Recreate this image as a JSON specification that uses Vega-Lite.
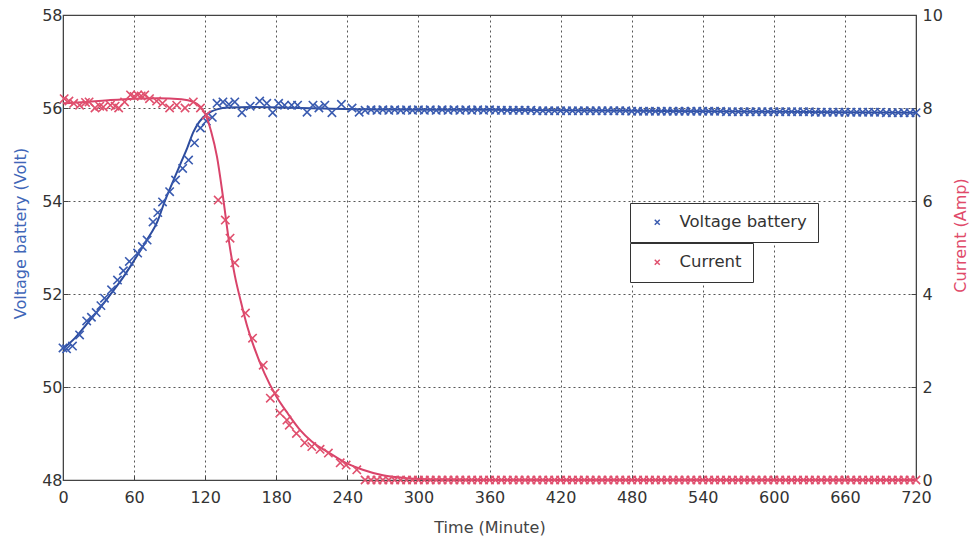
{
  "$schema": "https://vega.github.io/schema/vega-lite/v6.json",
  "autosize": "none",
  "width": 853,
  "height": 465,
  "padding": {"left": 63, "top": 15, "right": 54, "bottom": 57},
  "background": "white",
  "config": {
    "font": "DejaVu Sans",
    "view": {"stroke": "#444", "strokeWidth": 1.2},
    "axis": {
      "labelFont": "DejaVu Sans", "labelFontSize": 16, "labelColor": "#333",
      "titleFont": "DejaVu Sans", "titleFontSize": 16, "titleFontWeight": "normal",
      "domainColor": "#444", "tickColor": "#444", "tickSize": -5,
      "gridColor": "#444", "gridDash": [2, 3], "gridOpacity": 0.9, "gridWidth": 1
    },
    "legend": {"labelFont": "DejaVu Sans", "labelFontSize": 16.5, "labelColor": "#333"}
  },
  "datasets": {
    "vpts": [
      {"t":0,"v":50.84},{"t":3,"v":50.82},{"t":8,"v":50.88},{"t":14,"v":51.12},{"t":20,"v":51.42},{"t":24,"v":51.5},{"t":28,"v":51.6},{"t":32,"v":51.75},{"t":35,"v":51.91},{"t":41,"v":52.09},{"t":46,"v":52.3},{"t":51,"v":52.5},{"t":56,"v":52.7},{"t":63,"v":52.88},{"t":67,"v":53.02},{"t":71,"v":53.16},{"t":76,"v":53.55},{"t":80,"v":53.75},{"t":84,"v":53.98},{"t":90,"v":54.2},{"t":95,"v":54.45},{"t":101,"v":54.7},{"t":106,"v":54.88},{"t":111,"v":55.25},{"t":116,"v":55.57},{"t":121,"v":55.72},{"t":126,"v":55.8},{"t":130,"v":56.1},{"t":135,"v":56.13},{"t":140,"v":56.08},{"t":145,"v":56.13},{"t":151,"v":55.9},{"t":158,"v":56.04},{"t":166,"v":56.15},{"t":172,"v":56.1},{"t":177,"v":55.9},{"t":182,"v":56.1},{"t":187,"v":56.06},{"t":193,"v":56.06},{"t":198,"v":56.06},{"t":206,"v":55.91},{"t":211,"v":56.06},{"t":216,"v":56.0},{"t":221,"v":56.06},{"t":227,"v":55.9},{"t":235,"v":56.08},{"t":244,"v":56.0},{"t":250,"v":55.91},
      {"t":255,"v":55.95},{"t":260,"v":55.96},{"t":265,"v":55.95},{"t":270,"v":55.96},{"t":275,"v":55.95},{"t":280,"v":55.96},{"t":285,"v":55.95},{"t":290,"v":55.96},{"t":295,"v":55.95},{"t":300,"v":55.96},{"t":305,"v":55.95},{"t":310,"v":55.96},{"t":315,"v":55.95},{"t":320,"v":55.96},{"t":325,"v":55.95},{"t":330,"v":55.96},{"t":335,"v":55.95},{"t":340,"v":55.96},{"t":345,"v":55.95},{"t":350,"v":55.96},{"t":355,"v":55.95},{"t":360,"v":55.96},{"t":365,"v":55.95},{"t":370,"v":55.95},{"t":375,"v":55.95},{"t":380,"v":55.95},{"t":385,"v":55.95},{"t":390,"v":55.95},{"t":395,"v":55.95},{"t":400,"v":55.94},{"t":405,"v":55.94},{"t":410,"v":55.94},{"t":415,"v":55.94},{"t":420,"v":55.94},{"t":425,"v":55.94},{"t":430,"v":55.94},{"t":435,"v":55.94},{"t":440,"v":55.94},{"t":445,"v":55.94},{"t":450,"v":55.94},{"t":455,"v":55.94},{"t":460,"v":55.94},{"t":465,"v":55.94},{"t":470,"v":55.94},{"t":475,"v":55.94},{"t":480,"v":55.93},{"t":485,"v":55.93},{"t":490,"v":55.93},{"t":495,"v":55.93},{"t":500,"v":55.93},{"t":505,"v":55.93},{"t":510,"v":55.93},{"t":515,"v":55.93},{"t":520,"v":55.93},{"t":525,"v":55.93},{"t":530,"v":55.93},{"t":535,"v":55.93},{"t":540,"v":55.93},{"t":545,"v":55.93},{"t":550,"v":55.93},{"t":555,"v":55.93},{"t":560,"v":55.92},{"t":565,"v":55.92},{"t":570,"v":55.92},{"t":575,"v":55.92},{"t":580,"v":55.92},{"t":585,"v":55.92},{"t":590,"v":55.92},{"t":595,"v":55.92},{"t":600,"v":55.92},{"t":605,"v":55.92},{"t":610,"v":55.92},{"t":615,"v":55.92},{"t":620,"v":55.92},{"t":625,"v":55.92},{"t":630,"v":55.92},{"t":635,"v":55.91},{"t":640,"v":55.91},{"t":645,"v":55.91},{"t":650,"v":55.91},{"t":655,"v":55.91},{"t":660,"v":55.91},{"t":665,"v":55.91},{"t":670,"v":55.91},{"t":675,"v":55.91},{"t":680,"v":55.91},{"t":685,"v":55.91},{"t":690,"v":55.91},{"t":695,"v":55.9},{"t":700,"v":55.9},{"t":705,"v":55.9},{"t":710,"v":55.9},{"t":715,"v":55.9},{"t":720,"v":55.9}
    ],
    "vfit": [
      {"t":0,"v":50.82},{"t":10,"v":51.05},{"t":20,"v":51.35},{"t":30,"v":51.66},{"t":40,"v":51.99},{"t":50,"v":52.33},{"t":60,"v":52.72},{"t":70,"v":53.13},{"t":80,"v":53.58},{"t":86,"v":54.0},{"t":90,"v":54.25},{"t":95,"v":54.55},{"t":100,"v":54.85},{"t":105,"v":55.15},{"t":110,"v":55.48},{"t":115,"v":55.7},{"t":120,"v":55.84},{"t":125,"v":55.92},{"t":130,"v":55.97},{"t":140,"v":56.01},{"t":160,"v":56.02},{"t":200,"v":56.0},{"t":260,"v":55.97},{"t":360,"v":55.96},{"t":480,"v":55.94},{"t":600,"v":55.92},{"t":720,"v":55.9}
    ],
    "cpts": [
      {"t":1,"c":8.2},{"t":5,"c":8.15},{"t":9,"c":8.1},{"t":14,"c":8.06},{"t":19,"c":8.12},{"t":22,"c":8.13},{"t":27,"c":8.0},{"t":31,"c":8.04},{"t":34,"c":8.02},{"t":40,"c":8.06},{"t":44,"c":8.04},{"t":47,"c":8.0},{"t":52,"c":8.13},{"t":57,"c":8.28},{"t":60,"c":8.25},{"t":63,"c":8.28},{"t":66,"c":8.26},{"t":69,"c":8.28},{"t":73,"c":8.2},{"t":79,"c":8.15},{"t":84,"c":8.1},{"t":90,"c":8.0},{"t":96,"c":8.06},{"t":103,"c":8.0},{"t":110,"c":8.13},{"t":116,"c":8.0},{"t":121,"c":7.85},{"t":131,"c":6.02},{"t":137,"c":5.59},{"t":141,"c":5.2},{"t":145,"c":4.67},{"t":154,"c":3.59},{"t":160,"c":3.05},{"t":169,"c":2.47},{"t":175,"c":1.76},{"t":179,"c":1.87},{"t":183,"c":1.44},{"t":189,"c":1.29},{"t":191,"c":1.18},{"t":197,"c":1.0},{"t":204,"c":0.8},{"t":210,"c":0.72},{"t":217,"c":0.66},{"t":224,"c":0.58},{"t":234,"c":0.37},{"t":239,"c":0.32},{"t":248,"c":0.22},
      {"t":255,"c":0},{"t":260,"c":0},{"t":265,"c":0},{"t":270,"c":0},{"t":275,"c":0},{"t":280,"c":0},{"t":285,"c":0},{"t":290,"c":0},{"t":295,"c":0},{"t":300,"c":0},{"t":305,"c":0},{"t":310,"c":0},{"t":315,"c":0},{"t":320,"c":0},{"t":325,"c":0},{"t":330,"c":0},{"t":335,"c":0},{"t":340,"c":0},{"t":345,"c":0},{"t":350,"c":0},{"t":355,"c":0},{"t":360,"c":0},{"t":365,"c":0},{"t":370,"c":0},{"t":375,"c":0},{"t":380,"c":0},{"t":385,"c":0},{"t":390,"c":0},{"t":395,"c":0},{"t":400,"c":0},{"t":405,"c":0},{"t":410,"c":0},{"t":415,"c":0},{"t":420,"c":0},{"t":425,"c":0},{"t":430,"c":0},{"t":435,"c":0},{"t":440,"c":0},{"t":445,"c":0},{"t":450,"c":0},{"t":455,"c":0},{"t":460,"c":0},{"t":465,"c":0},{"t":470,"c":0},{"t":475,"c":0},{"t":480,"c":0},{"t":485,"c":0},{"t":490,"c":0},{"t":495,"c":0},{"t":500,"c":0},{"t":505,"c":0},{"t":510,"c":0},{"t":515,"c":0},{"t":520,"c":0},{"t":525,"c":0},{"t":530,"c":0},{"t":535,"c":0},{"t":540,"c":0},{"t":545,"c":0},{"t":550,"c":0},{"t":555,"c":0},{"t":560,"c":0},{"t":565,"c":0},{"t":570,"c":0},{"t":575,"c":0},{"t":580,"c":0},{"t":585,"c":0},{"t":590,"c":0},{"t":595,"c":0},{"t":600,"c":0},{"t":605,"c":0},{"t":610,"c":0},{"t":615,"c":0},{"t":620,"c":0},{"t":625,"c":0},{"t":630,"c":0},{"t":635,"c":0},{"t":640,"c":0},{"t":645,"c":0},{"t":650,"c":0},{"t":655,"c":0},{"t":660,"c":0},{"t":665,"c":0},{"t":670,"c":0},{"t":675,"c":0},{"t":680,"c":0},{"t":685,"c":0},{"t":690,"c":0},{"t":695,"c":0},{"t":700,"c":0},{"t":705,"c":0},{"t":710,"c":0},{"t":715,"c":0},{"t":720,"c":0}
    ],
    "cfit": [
      {"t":0,"c":8.1},{"t":20,"c":8.13},{"t":40,"c":8.17},{"t":60,"c":8.2},{"t":80,"c":8.21},{"t":100,"c":8.19},{"t":110,"c":8.13},{"t":115,"c":8.05},{"t":120,"c":7.88},{"t":125,"c":7.5},{"t":130,"c":6.95},{"t":135,"c":6.1},{"t":140,"c":5.15},{"t":145,"c":4.4},{"t":150,"c":3.85},{"t":155,"c":3.35},{"t":160,"c":2.95},{"t":170,"c":2.3},{"t":180,"c":1.8},{"t":190,"c":1.42},{"t":200,"c":1.08},{"t":210,"c":0.83},{"t":225,"c":0.58},{"t":240,"c":0.35},{"t":253,"c":0.22},{"t":270,"c":0.1},{"t":290,"c":0.04},{"t":320,"c":0.01},{"t":360,"c":0},{"t":720,"c":0}
    ]
  },
  "layer": [
    {
      "data": {"name": "vfit"},
      "mark": {"type": "line", "color": "#2d4c9e", "strokeWidth": 2, "interpolate": "monotone"},
      "encoding": {
        "x": {"field": "t", "type": "quantitative", "scale": {"domain": [0, 720], "nice": false},
          "axis": {"values": [0,60,120,180,240,300,360,420,480,540,600,660,720], "grid": true, "labelPadding": 14, "labelFlush": false,
            "title": "Time (Minute)", "titleColor": "#444", "titleY": 47, "titleBaseline": "middle"}},
        "y": {"field": "v", "type": "quantitative", "scale": {"domain": [48, 58], "nice": false, "zero": false},
          "axis": {"orient": "left", "values": [48,50,52,54,56,58], "grid": true, "labelPadding": 6,
            "title": "Voltage battery (Volt)", "titleColor": "#4066b8", "titleX": -43, "titleY": 218,
            "titleAngle": 270, "titleAlign": "center", "titleBaseline": "middle"}}
      }
    },
    {
      "data": {"name": "vpts"},
      "mark": {"type": "point", "filled": false, "shape": "M-1,-1L1,1M1,-1L-1,1", "size": 70, "strokeWidth": 1.6, "opacity": 1},
      "encoding": {
        "x": {"field": "t", "type": "quantitative"},
        "y": {"field": "v", "type": "quantitative", "scale": {"domain": [48, 58], "nice": false, "zero": false}, "axis": null},
        "color": {"datum": "Voltage battery", "type": "nominal", "scale": {"domain": ["Voltage battery"], "range": ["#3a5bb0"]},
          "legend": {"orient": "none", "legendX": 567, "legendY": 188, "title": null, "strokeColor": "#333", "fillColor": "white",
            "padding": 11, "symbolType": "M-1,-1L1,1M1,-1L-1,1", "symbolSize": 25, "symbolStrokeWidth": 1.5, "symbolOffset": 8, "labelOffset": 14}}
      }
    },
    {
      "data": {"name": "cfit"},
      "mark": {"type": "line", "color": "#d9436a", "strokeWidth": 2, "interpolate": "monotone"},
      "encoding": {
        "x": {"field": "t", "type": "quantitative"},
        "y": {"field": "c", "type": "quantitative", "scale": {"domain": [0, 10], "nice": false},
          "axis": {"orient": "right", "values": [0,2,4,6,8,10], "grid": false, "labelPadding": 11,
            "title": "Current (Amp)", "titleColor": "#e04a6a", "titleX": 44, "titleY": 220,
            "titleAngle": 270, "titleAlign": "center", "titleBaseline": "middle"}}
      }
    },
    {
      "data": {"name": "cpts"},
      "mark": {"type": "point", "filled": false, "color": "#e0506e", "stroke": "#e0506e", "size": 70, "strokeWidth": 1.6, "opacity": 1},
      "encoding": {
        "x": {"field": "t", "type": "quantitative"},
        "y": {"field": "c", "type": "quantitative", "scale": {"domain": [0, 10], "nice": false}, "axis": null},
        "shape": {"datum": "Current", "type": "nominal", "scale": {"domain": ["Current"], "range": ["M-1,-1L1,1M1,-1L-1,1"]},
          "legend": {"orient": "none", "legendX": 567, "legendY": 228, "title": null, "strokeColor": "#333", "fillColor": "white",
            "padding": 11, "symbolSize": 25, "symbolStrokeColor": "#e0506e", "symbolStrokeWidth": 1.5, "symbolOffset": 8, "labelOffset": 14}}
      }
    }
  ],
  "resolve": {"scale": {"y": "independent"}}
}
